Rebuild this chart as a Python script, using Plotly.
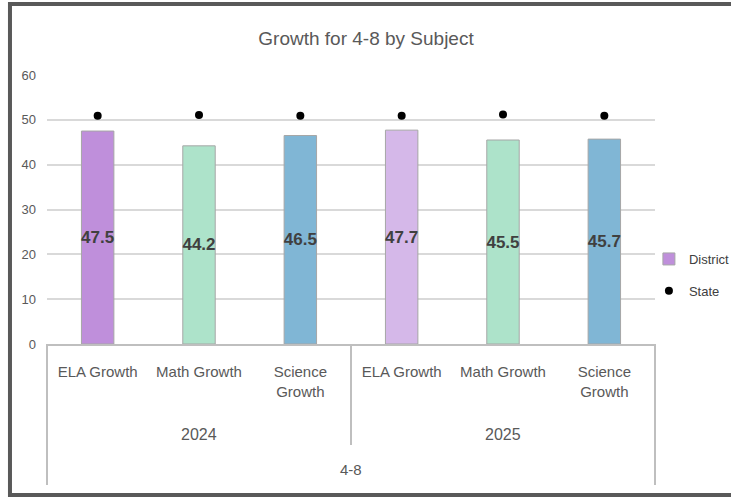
import plotly.graph_objects as go

years = ["2024", "2024", "2024", "2025", "2025", "2025"]
subjects = ["ELA Growth", "Math Growth", "Science<br>Growth",
            "ELA Growth", "Math Growth", "Science<br>Growth"]
district = [47.5, 44.2, 46.5, 47.7, 45.5, 45.7]
state = [50.9, 51.1, 50.9, 50.9, 51.2, 50.9]
bar_colors = ["#BF8FDB", "#ADE3CA", "#80B6D5", "#D5B8E9", "#ADE3CA", "#80B6D5"]
group_label = "4-8"
title = "Growth for 4-8 by Subject"

FONT = "Liberation Sans, Arial, sans-serif"

cats = [f"{y} {s}" for y, s in zip(years, subjects)]
year_list = list(dict.fromkeys(years))

fig = go.Figure()
fig.add_trace(go.Bar(
    x=cats, y=district, name="District", legendgroup="d",
    marker=dict(color=bar_colors, line=dict(color="#A6A6A6", width=1)),
    width=0.32,
    text=[f"{v:.1f}" for v in district],
    textposition="inside", insidetextanchor="middle", constraintext="none",
    textfont=dict(family=FONT, size=17, color="#404040", weight="bold"),
    textangle=0,
))
fig.add_trace(go.Scatter(
    x=cats, y=state, name="State", mode="markers", legendgroup="s",
    marker=dict(color="black", size=8),
))

shapes = [
    dict(type="rect", xref="paper", yref="paper", x0=-0.0609, x1=1.14, y0=-0.561, y1=1.264,
         line=dict(color="#595959", width=4), fillcolor="rgba(0,0,0,0)", layer="below"),
    dict(type="line", xref="paper", yref="paper", x0=0, x1=0, y0=0, y1=-0.524,
         line=dict(color="#BFBFBF", width=2)),
    dict(type="line", xref="paper", yref="paper", x0=1, x1=1, y0=0, y1=-0.524,
         line=dict(color="#BFBFBF", width=2)),
    dict(type="line", xref="paper", yref="paper", x0=0.5, x1=0.5, y0=0, y1=-0.375,
         line=dict(color="#BFBFBF", width=2)),
]

annotations = []
for yr in year_list:
    idx = [i for i, y in enumerate(years) if y == yr]
    mid = cats[idx[len(idx) // 2]]
    annotations.append(dict(text=yr, xref="x", yref="paper", x=mid, y=-0.338, yanchor="middle",
                            showarrow=False, font=dict(family=FONT, size=16, color="#595959")))
annotations.append(dict(text=group_label, xref="paper", yref="paper", x=0.5, y=-0.468,
                        yanchor="middle",
                        showarrow=False, font=dict(family=FONT, size=15, color="#595959")))

fig.update_layout(
    width=731, height=497,
    margin=dict(l=47, r=76, t=75, b=153, autoexpand=False),
    paper_bgcolor="white", plot_bgcolor="white",
    title=dict(text=title, x=366 / 731, xanchor="center", y=1 - 38 / 497, yanchor="middle",
               font=dict(family=FONT, size=19, color="#595959")),
    font=dict(family=FONT, color="#595959", size=15),
    showlegend=True,
    legend=dict(x=0.99, y=0.2565, xanchor="left", yanchor="middle",
                font=dict(family=FONT, size=13, color="#404040"),
                itemwidth=30, tracegroupgap=12, bgcolor="rgba(0,0,0,0)"),
    shapes=shapes,
    annotations=annotations,
)
fig.update_yaxes(range=[0, 60], dtick=10, showgrid=True, gridcolor="#D9D9D9", gridwidth=2,
                 zeroline=False, showline=False, ticks="", ticklabelstandoff=10,
                 tickfont=dict(family=FONT, size=13, color="#595959"))
fig.update_xaxes(type="category", tickvals=cats, ticktext=subjects,
                 showline=True, linecolor="#BFBFBF", linewidth=2,
                 ticks="", ticklabelstandoff=13, showgrid=False,
                 tickfont=dict(family=FONT, size=15, color="#595959"))

fig.write_html("out.html", config={"displayModeBar": False},
               post_script="document.body.style.margin='0';")
